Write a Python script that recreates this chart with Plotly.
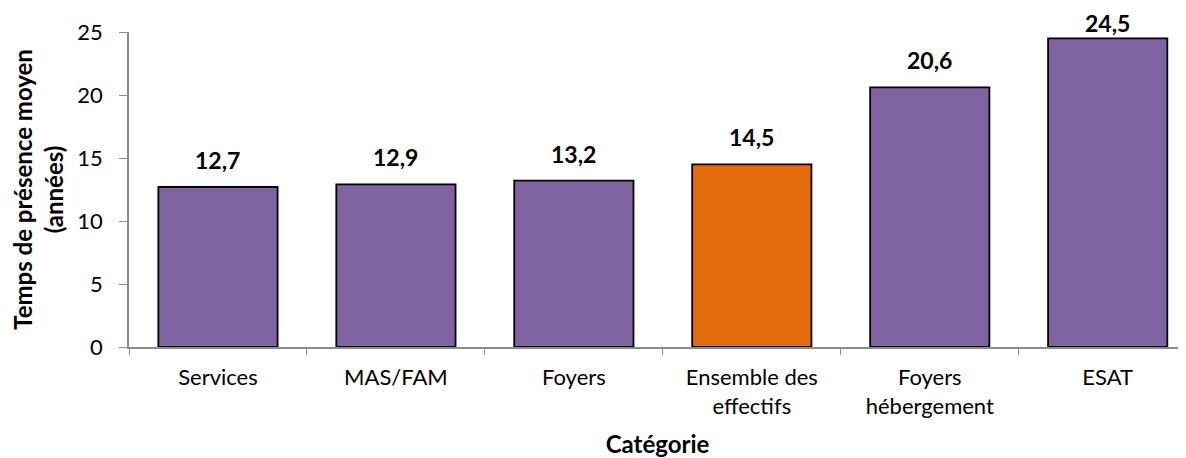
import plotly.graph_objects as go

# categories and values
categories = ["Services", "MAS/FAM", "Foyers", "Ensemble des<br>effectifs",
              "Foyers<br>hébergement", "ESAT"]
values = [12.7, 12.9, 13.2, 14.5, 20.6, 24.5]
bar_colors = ["#8064A2", "#8064A2", "#8064A2", "#E46C0A", "#8064A2", "#8064A2"]
y_ticks = [0, 5, 10, 15, 20, 25]

FONT = "Lato, Open Sans, sans-serif"

fig = go.Figure()
fig.add_trace(go.Bar(
    x=categories, y=values,
    marker=dict(color=bar_colors, line=dict(color="black", width=1.8)),
    width=0.67,
    hoverinfo="x+y",
))

# value labels above bars (the tallest one is tucked closer, like Excel does)
for c, v in zip(categories, values):
    fig.add_annotation(
        x=c, y=v, text="<b>" + f"{v:.1f}".replace(".", ",") + "</b>",
        showarrow=False, yanchor="bottom", yshift=11 if v < 23 else -1,
        font=dict(family=FONT, size=23, color="black"),
    )

# page body adds an 8px offset, so the figure is 8px smaller than the window
fig.update_layout(
    width=1178, height=450,
    margin=dict(l=121, r=0, t=24, b=111),
    paper_bgcolor="white", plot_bgcolor="white",
    showlegend=False,
    font=dict(family=FONT, size=21, color="black"),
)
fig.update_xaxes(
    type="category", range=[-0.5, 5.44],
    showline=True, linecolor="#8C8C8C", linewidth=1.5,
    ticks="outside", tickson="boundaries", ticklen=6, tickcolor="#8C8C8C",
    tickfont=dict(family=FONT, size=22), ticklabelstandoff=10,
    title=dict(text="<b>Catégorie</b>", font=dict(family=FONT, size=24), standoff=30),
    showgrid=False, automargin=False,
)
fig.update_yaxes(
    range=[0, 25], tickvals=y_ticks,
    showline=True, linecolor="#8C8C8C", linewidth=1.5,
    ticks="outside", ticklen=8, tickcolor="#8C8C8C",
    tickfont=dict(family=FONT, size=22), ticklabelstandoff=12,
    title=dict(text="<b>Temps de présence moyen<br>(années)</b>",
               font=dict(family=FONT, size=24), standoff=12),
    showgrid=False, zeroline=False, automargin=False,
)

fig.write_html("out.html")
